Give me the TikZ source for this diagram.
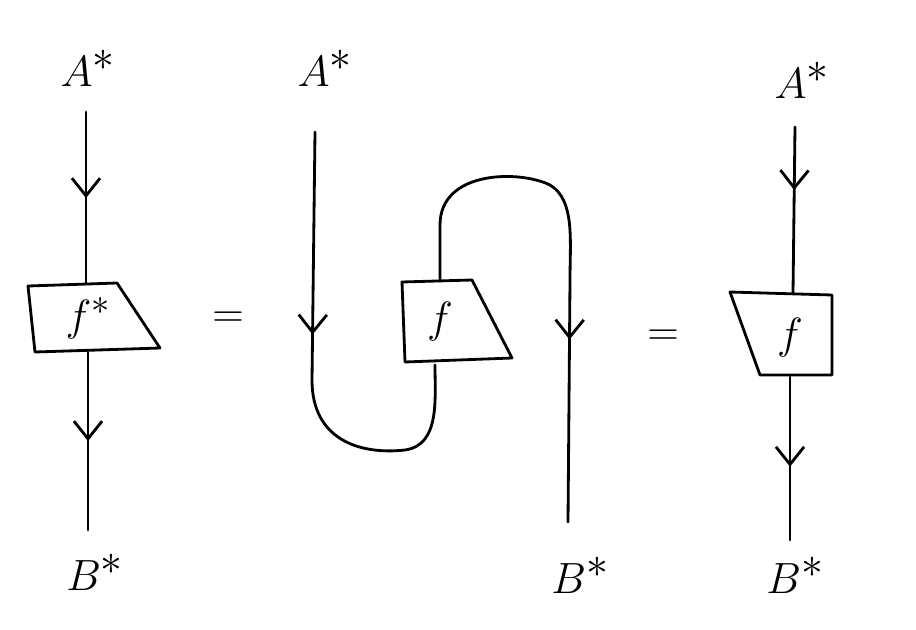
\documentclass[tikz,border=0pt]{standalone}
\usepackage{amsmath, amssymb}
\usetikzlibrary{calc,arrows.meta,decorations.markings}

\tikzset{
  wire/.style={line width=1.6pt, line cap=round, line join=round},
  downarrow/.style={postaction={decorate}, decoration={markings,
      mark=at position #1 with {\arrow{Straight Barb[length=10pt,width=16pt,line width=1.6pt]}}}},
  lbl/.style={font=\fontsize{34}{38}\selectfont},
  boxtxt/.style={font=\fontsize{30}{34}\selectfont}
}

\begin{document}
\begin{tikzpicture}[x=0.02cm,y=-0.02cm]
\useasboundingbox (0,0) rectangle (916,629);

% left picture
\node[lbl] (la) at (88,68) {$A^*$};
\node[lbl] (lb) at (95,572) {$B^*$};
\coordinate (lt) at (86,112);
\coordinate (lbt) at (86,284);
\coordinate (lbb) at (88,352);
\coordinate (le) at (88,530);
\draw[wire] (28,286) -- (117,283) -- (160,348) -- (35,352) -- cycle;
\node[boxtxt] (lf) at (88,318) {$f^*$};
\draw[wire, downarrow=0.5] (lt) -- (lbt);
\draw[wire, downarrow=0.5] (lbb) -- (le);

\node[lbl] (eq1) at (228,320) {$=$};

% middle picture
\node[lbl] (ma) at (325,68) {$A^*$};
\node[lbl] (mb) at (580,575) {$B^*$};
\draw[wire] (402,282) -- (472,280) -- (512,358) -- (405,362) -- cycle;
\node[boxtxt] (mf) at (440,322) {$f$};
\coordinate (ms) at (315,132);
\coordinate (mbot) at (435,365);
\coordinate (mtop) at (440,281);
\coordinate (me) at (568,522);
\draw[wire, downarrow=0.42] (ms) -- (312,380)
   .. controls (312,440) and (360,455) .. (405,450)
   .. controls (440,445) and (435,400) .. (mbot);
\draw[wire, downarrow=0.66] (mtop) -- (440,225)
   .. controls (440,170) and (520,170) .. (550,185)
   .. controls (575,200) and (570,240) .. (570,280) -- (me);

\node[lbl] (eq2) at (663,338) {$=$};

% right picture
\node[lbl] (ra) at (802,80) {$A^*$};
\node[lbl] (rb) at (795,575) {$B^*$};
\draw[wire] (730,292) -- (832,295) -- (832,375) -- (760,375) -- cycle;
\node[boxtxt] (rf) at (790,338) {$f$};
\coordinate (rt) at (795,127);
\coordinate (rbt) at (793,293);
\coordinate (rbb) at (790,377);
\coordinate (re) at (790,540);
\draw[wire, downarrow=0.38] (rt) -- (rbt);
\draw[wire, downarrow=0.55] (rbb) -- (re);
\end{tikzpicture}
\end{document}
